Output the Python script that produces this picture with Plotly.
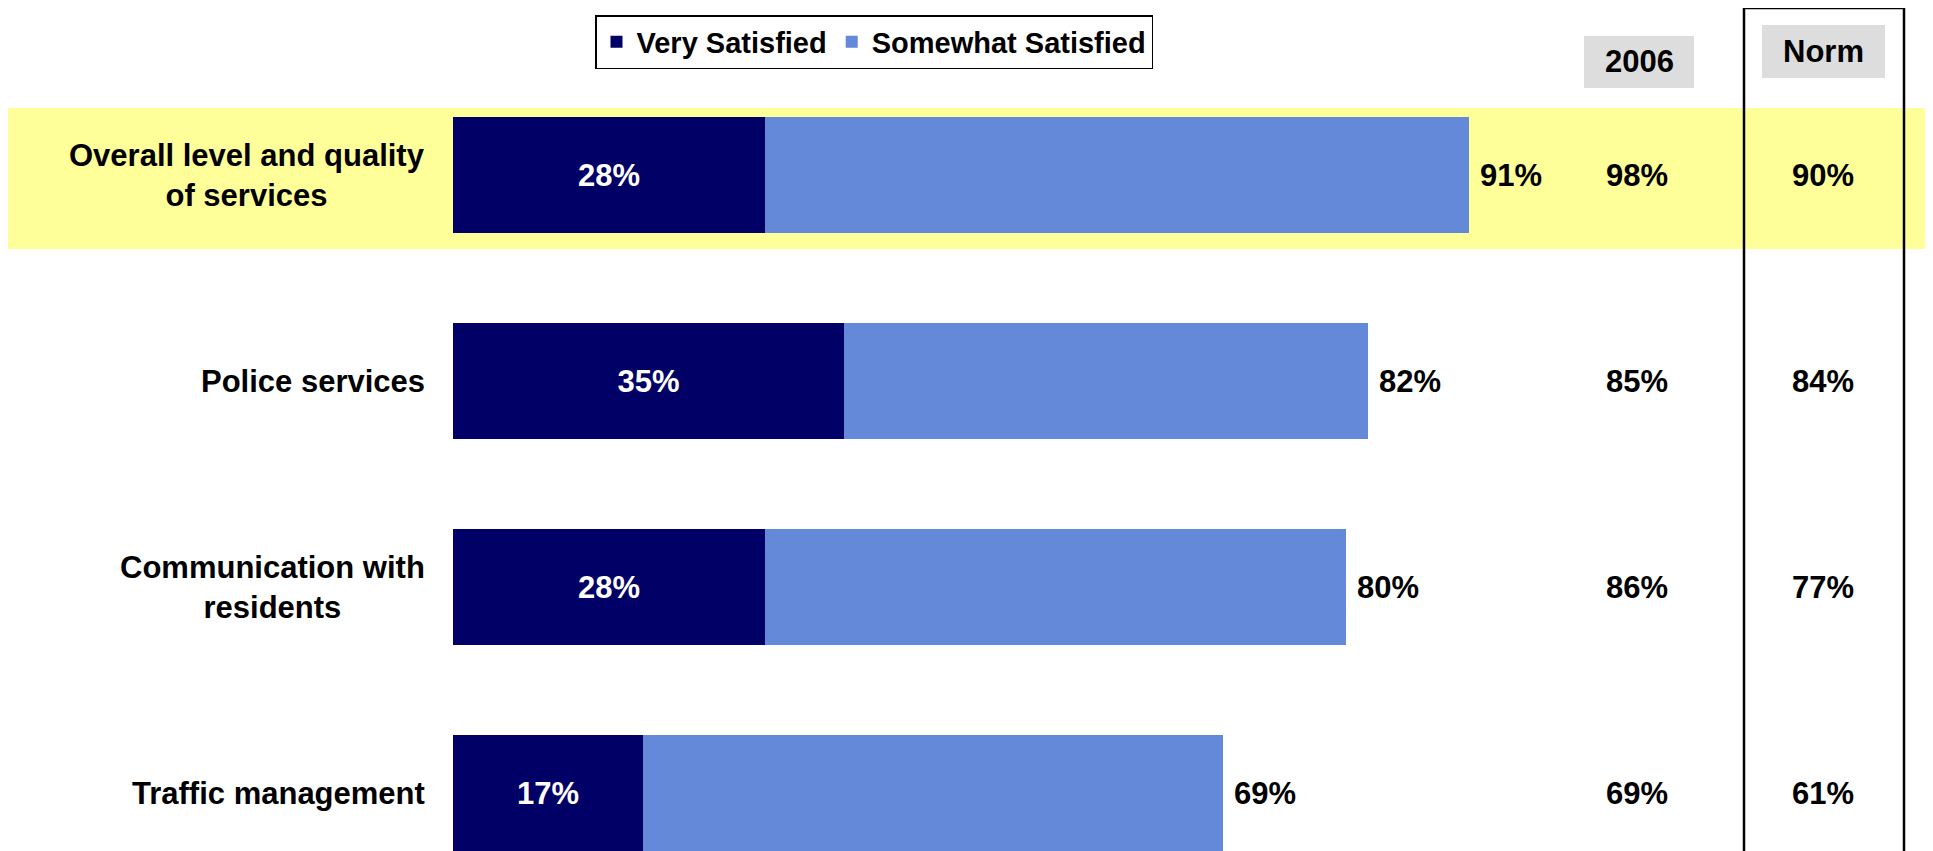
import plotly.graph_objects as go

# ---- data ----
categories = ["Overall level and quality of services", "Police services",
              "Communication with residents", "Traffic management"]
category_labels = ["Overall level and quality<br>of services", "Police services",
                   "Communication with<br>residents", "Traffic management"]
very_satisfied = [28, 35, 28, 17]
somewhat_satisfied = [63, 47, 52, 52]
total_satisfied = [91, 82, 80, 69]
results_2006 = [98, 85, 86, 69]
results_norm = [90, 84, 77, 61]
series_names = ["Very Satisfied", "Somewhat Satisfied"]
header_2006 = "2006"
header_norm = "Norm"

# ---- layout helpers ----
W, H = 1933, 851
OFF = 8  # page body margin
FONT = "Arial, Liberation Sans, sans-serif"
DARK = "#000066"
LIGHT = "#6389D8"
PX_PER_PCT = 11.16
X0 = 453 - OFF
ROW0 = 175 - OFF
ROW_STEP = 206


def px(x):
    return (x - OFF) / W


def py(y):
    return 1 - (y - OFF) / H


fig = go.Figure()
fig.add_trace(go.Bar(
    y=categories, x=very_satisfied, orientation="h", name=series_names[0],
    marker=dict(color=DARK, line=dict(width=0)), width=0.563,
    text=[f"{v}%" for v in very_satisfied], textposition="inside",
    insidetextanchor="middle", textangle=0,
    textfont=dict(family=FONT, size=31, color="white", weight="bold"),
))
fig.add_trace(go.Bar(
    y=categories, x=somewhat_satisfied, orientation="h", name=series_names[1],
    marker=dict(color=LIGHT, line=dict(width=0)), width=0.563,
))

shapes = [
    # highlight band
    dict(type="rect", xref="paper", yref="paper", x0=px(5), x1=px(1928),
         y0=py(249), y1=py(108), fillcolor="#FFFF99", line=dict(width=0), layer="below"),
    # header boxes
    dict(type="rect", xref="paper", yref="paper", x0=px(1584), x1=px(1694),
         y0=py(88), y1=py(36), fillcolor="#DDDDDD", line=dict(width=0), layer="below"),
    dict(type="rect", xref="paper", yref="paper", x0=px(1762), x1=px(1885),
         y0=py(78), y1=py(25), fillcolor="#DDDDDD", line=dict(width=0), layer="below"),
    # norm outline
    dict(type="rect", xref="paper", yref="paper", x0=px(1744), x1=px(1904),
         y0=py(880), y1=py(8), fillcolor="rgba(0,0,0,0)",
         line=dict(width=2.5, color="black"), layer="above"),
]

annotations = []
big = dict(family=FONT, size=31, color="black", weight="bold")
for cat, lab, tot, v06, vn in zip(categories, category_labels, total_satisfied,
                                  results_2006, results_norm):
    annotations.append(dict(x=px(427), xref="paper", y=cat, yref="y", text=lab,
                            xanchor="right", align="center", showarrow=False, font=big))
    annotations.append(dict(x=tot, xref="x", y=cat, yref="y", text=f"{tot}%",
                            xanchor="left", xshift=9, showarrow=False, font=big))
    annotations.append(dict(x=px(1637), xref="paper", y=cat, yref="y", text=f"{v06}%",
                            xanchor="center", showarrow=False, font=big))
    annotations.append(dict(x=px(1823), xref="paper", y=cat, yref="y", text=f"{vn}%",
                            xanchor="center", showarrow=False, font=big))
annotations.append(dict(x=px(1639), xref="paper", y=py(62), yref="paper", text=header_2006,
                        xanchor="center", yanchor="middle", showarrow=False, font=big))
annotations.append(dict(x=px(1823.5), xref="paper", y=py(51), yref="paper", text=header_norm,
                        xanchor="center", yanchor="middle", showarrow=False, font=big))

fig.update_layout(
    width=W, height=H,
    margin=dict(l=0, r=0, t=0, b=0),
    paper_bgcolor="white", plot_bgcolor="rgba(0,0,0,0)",
    barmode="stack", bargap=0,
    font=dict(family=FONT, color="black"),
    showlegend=True,
    legend=dict(orientation="h", x=px(595), y=py(15), xanchor="left", yanchor="top",
                bgcolor="white", bordercolor="black", borderwidth=1.5,
                font=dict(family=FONT, size=29, color="black", weight="bold"),
                traceorder="normal", itemclick=False, itemwidth=30),
    xaxis=dict(domain=[X0 / W, 1], range=[0, (W - X0) / PX_PER_PCT],
               showgrid=False, zeroline=False, showticklabels=False, showline=False,
               fixedrange=True),
    yaxis=dict(categoryorder="array", categoryarray=categories,
               range=[(H - ROW0) / ROW_STEP, -ROW0 / ROW_STEP], showgrid=False,
               zeroline=False, showticklabels=False, showline=False, fixedrange=True),
    shapes=shapes, annotations=annotations,
)

fig.write_html("out.html")
